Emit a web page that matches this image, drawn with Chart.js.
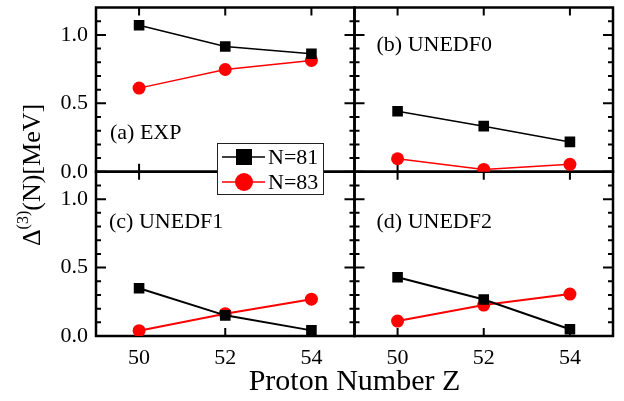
<!DOCTYPE html>
<html>
<head>
<meta charset="utf-8">
<script src="https://cdn.jsdelivr.net/npm/chart.js@4.4.0/dist/chart.umd.min.js"></script>
<style>
  html, body { margin: 0; padding: 0; background: #fff; }
  #wrap { width: 624px; height: 401px; }
</style>
</head>
<body>
<div id="wrap"><canvas id="c"></canvas></div>
<script>
// values (MeV)
const protonZ = [50, 52, 54];
const expN81 = [1.07, 0.915, 0.862];
const expN83 = [0.611, 0.747, 0.813];
const unedf0N81 = [0.442, 0.333, 0.218];
const unedf0N83 = [0.095, 0.017, 0.054];
const unedf1N81 = [0.349, 0.151, 0.041];
const unedf1N83 = [0.039, 0.163, 0.269];
const unedf2N81 = [0.429, 0.267, 0.049];
const unedf2N83 = [0.109, 0.226, 0.306];

const panelNames = ['(a) EXP', '(b) UNEDF0', '(c) UNEDF1', '(d) UNEDF2'];
const seriesNames = ['N=81', 'N=83'];
const xTicks = [50, 52, 54];
const yTicks = [0, 0.5, 1.0];
const yMinorTicks = [0.1, 0.2, 0.3, 0.4, 0.6, 0.7, 0.8, 0.9, 1.1];

const FONT = "'Liberation Serif', 'Times New Roman', serif";

// panel -> axes
const panels = [
  { x: 'xl', y: 'yt', n81: expN81, n83: expN83, lw: 1.5 },
  { x: 'xr', y: 'yt', n81: unedf0N81, n83: unedf0N83, lw: 1.5 },
  { x: 'xl', y: 'yb', n81: unedf1N81, n83: unedf1N83, lw: 2 },
  { x: 'xr', y: 'yb', n81: unedf2N81, n83: unedf2N83, lw: 2 },
];

const toPoints = vals => protonZ.map((z, i) => ({ x: z, y: vals[i] }));

const datasets = [];
panels.forEach(p => {
  datasets.push({
    label: seriesNames[0], data: toPoints(p.n81), xAxisID: p.x, yAxisID: p.y,
    borderColor: '#000', backgroundColor: '#000', borderWidth: p.lw,
    pointStyle: 'rect', pointRadius: 7.5, pointBorderWidth: 0,
  });
  datasets.push({
    label: seriesNames[1], data: toPoints(p.n83), xAxisID: p.x, yAxisID: p.y,
    borderColor: '#ff0000', backgroundColor: '#ff0000', borderWidth: p.lw,
    pointStyle: 'circle', pointRadius: 6.5, pointBorderWidth: 0,
  });
});

const xAxis = () => ({
  type: 'linear', position: 'bottom', stack: 'x', stackWeight: 1,
  min: 49, max: 55,
  afterBuildTicks: s => { s.ticks = xTicks.map(v => ({ value: v })); },
  afterFit: s => { s.height = 65; s.paddingLeft = 0; s.paddingRight = 0; },
  grid: { display: false, drawTicks: false },
  border: { display: false },
  ticks: { color: '#000', font: { family: FONT, size: 22 }, padding: 9, maxRotation: 0 },
});
const yAxis = () => ({
  type: 'linear', position: 'left', stack: 'y', stackWeight: 1,
  min: 0, max: 1.2,
  afterBuildTicks: s => { s.ticks = yTicks.map(v => ({ value: v })); },
  afterFit: s => { s.width = 96; s.paddingTop = 0; s.paddingBottom = 0; },
  grid: { display: false, drawTicks: false },
  border: { display: false },
  ticks: { color: '#000', font: { family: FONT, size: 22 }, padding: 8,
    callback: v => v.toFixed(1) },
});

// frame + inward ticks for every panel
const framePlugin = {
  id: 'frame',
  beforeDatasetsDraw(chart) {
    const { ctx, scales } = chart;
    ctx.save();
    ctx.strokeStyle = '#000';
    panels.forEach(p => {
      const xs = scales[p.x], ys = scales[p.y];
      const l = xs.left, r = xs.right, t = ys.top, b = ys.bottom;
      ctx.lineWidth = 2;
      ctx.beginPath();
      yTicks.forEach(v => {
        const py = ys.getPixelForValue(v);
        ctx.moveTo(l, py); ctx.lineTo(l + 10, py);
        ctx.moveTo(r, py); ctx.lineTo(r - 10, py);
      });
      yMinorTicks.forEach(v => {
        const py = ys.getPixelForValue(v);
        ctx.moveTo(l, py); ctx.lineTo(l + 5, py);
        ctx.moveTo(r, py); ctx.lineTo(r - 5, py);
      });
      xTicks.forEach(v => {
        const px = xs.getPixelForValue(v);
        ctx.moveTo(px, t); ctx.lineTo(px, t + 8);
        ctx.moveTo(px, b); ctx.lineTo(px, b - 8);
      });
      ctx.stroke();
      ctx.lineWidth = 2.5;
      ctx.strokeRect(l, t, r - l, b - t);
    });
    ctx.restore();
  },
  afterDraw(chart) {
    const { ctx, scales, chartArea } = chart;
    ctx.save();
    ctx.fillStyle = '#000';
    // panel labels
    const offs = [[14, 131], [22, 43], [13, 56], [22, 56]];
    ctx.font = '22px ' + FONT;
    ctx.textBaseline = 'alphabetic';
    ctx.textAlign = 'left';
    panels.forEach((p, i) => {
      ctx.fillText(panelNames[i], scales[p.x].left + offs[i][0], scales[p.y].top + offs[i][1]);
    });

    // legend
    const bx = 217, by = 143, bw = 106, bh = 51;
    ctx.fillStyle = '#fff';
    ctx.fillRect(bx, by, bw, bh);
    ctx.strokeStyle = '#222';
    ctx.lineWidth = 1;
    ctx.strokeRect(bx + 0.5, by + 0.5, bw, bh);
    [0, 1].forEach(i => {
      const ds = chart.data.datasets[i];
      const cy = by + 14 + i * 25;
      ctx.strokeStyle = ds.borderColor;
      ctx.lineWidth = 1.5;
      ctx.beginPath();
      ctx.moveTo(bx + 5, cy); ctx.lineTo(bx + 48, cy);
      ctx.stroke();
      ctx.fillStyle = ds.backgroundColor;
      if (ds.pointStyle === 'rect') {
        ctx.fillRect(bx + 27 - 8, cy - 8, 16, 16);
      } else {
        ctx.beginPath();
        ctx.arc(bx + 27, cy, 9, 0, Math.PI * 2);
        ctx.fill();
      }
      ctx.fillStyle = '#000';
      ctx.font = '22px ' + FONT;
      ctx.textBaseline = 'middle';
      ctx.fillText(ds.label, bx + 51, cy + 1);
    });

    // x title
    ctx.fillStyle = '#000';
    ctx.font = '30px ' + FONT;
    ctx.textAlign = 'center';
    ctx.textBaseline = 'alphabetic';
    ctx.fillText('Proton Number Z', (chartArea.left + chartArea.right) / 2, 390);

    // y title: Δ^(3)(N)[MeV], rotated
    ctx.translate(40, 175);
    ctx.rotate(-Math.PI / 2);
    const big = '26px ' + FONT, small = '16px ' + FONT;
    ctx.font = big; const w1 = ctx.measureText('\u0394').width;
    const w3 = ctx.measureText('(N)[MeV]').width;
    ctx.font = small; const w2 = ctx.measureText('(3)').width;
    let x0 = -(w1 + w2 + w3) / 2;
    ctx.textAlign = 'left';
    ctx.font = big; ctx.fillText('\u0394', x0, 0); x0 += w1;
    ctx.font = small; ctx.fillText('(3)', x0, -12); x0 += w2;
    ctx.font = big; ctx.fillText('(N)[MeV]', x0, 0);
    ctx.restore();
  }
};

new Chart(document.getElementById('c'), {
  type: 'line',
  data: { datasets },
  options: {
    responsive: true,
    maintainAspectRatio: false,
    animation: false,
    layout: { padding: { top: 6, right: 11, left: 0, bottom: 0 } },
    plugins: { legend: { display: false }, tooltip: { enabled: false } },
    // first stacked y axis ends up at the bottom, so yb goes first
    scales: { xl: xAxis(), xr: xAxis(), yb: yAxis(), yt: yAxis() },
  },
  plugins: [framePlugin],
});
</script>
</body>
</html>
